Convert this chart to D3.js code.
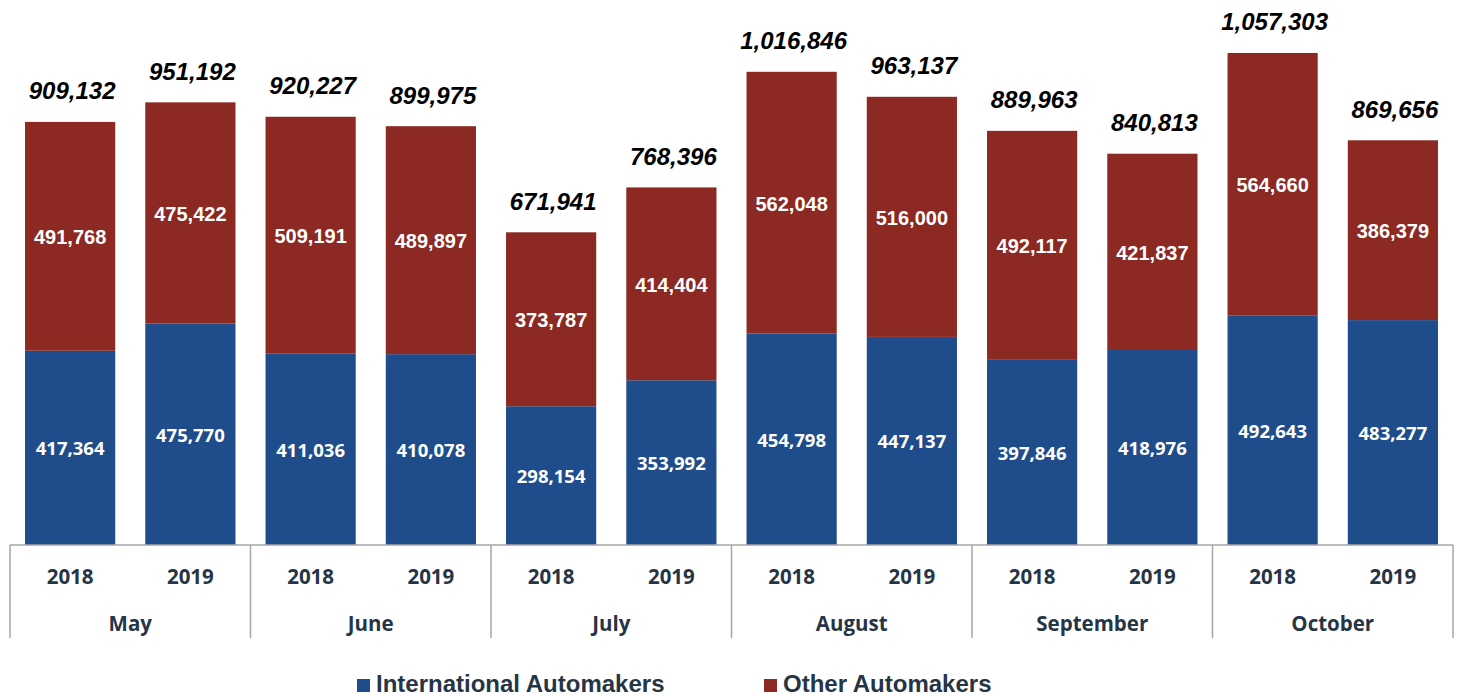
<!DOCTYPE html>
<meta charset="utf-8">
<script src="https://d3js.org/d3.v7.min.js"></script>
<style>
body { margin: 0; background: #fff; }
</style>
<div id="chart"></div>
<script>

// data
var months = ["May", "June", "July", "August", "September", "October"];
var years = ["2018", "2019"];
var international = [417364, 475770, 411036, 410078, 298154, 353992, 454798, 447137, 397846, 418976, 492643, 483277];
var other = [491768, 475422, 509191, 489897, 373787, 414404, 562048, 516000, 492117, 421837, 564660, 386379];
var seriesNames = ["International Automakers", "Other Automakers"];

var colors = {"International Automakers": "#1f4d8c", "Other Automakers": "#8b2922"};
// the blue labels are in a Calibri-like face, the red ones in Arial
var labelFont = {
  "International Automakers": {family: "'Open Sans', sans-serif", size: "18.5px"},
  "Other Automakers": {family: "'Liberation Sans', Arial, sans-serif", size: "20px"}
};

var width = 1459, height = 696;
var left = 10, right = 1453, base = 545;

var svg = d3.select("#chart").append("svg")
  .attr("width", width)
  .attr("height", height);

// one row per bar
var rows = [];
months.forEach(function(m, i) {
  years.forEach(function(y, j) {
    var k = i * 2 + j;
    rows.push({key: m + "|" + y, month: m, year: y,
      "International Automakers": international[k],
      "Other Automakers": other[k]});
  });
});

var x = d3.scaleBand()
  .domain(rows.map(function(d) { return d.key; }))
  .range([left, right])
  .paddingInner(0.25)
  .paddingOuter(0.125);

var xMonth = d3.scaleBand()
  .domain(months)
  .range([left, right]);

var y = d3.scaleLinear()
  .domain([0, 1100000])
  .range([base, 33.1]);

var stack = d3.stack().keys(seriesNames);
var layers = stack(rows);

var fmt = d3.format(",");

var g = svg.selectAll("g.layer")
  .data(layers)
  .enter().append("g")
    .attr("class", "layer")
    .attr("fill", function(d) { return colors[d.key]; });

g.selectAll("rect")
  .data(function(d) { return d; })
  .enter().append("rect")
    .attr("x", function(d) { return x(d.data.key); })
    .attr("width", x.bandwidth())
    .attr("y", function(d) { return y(d[1]); })
    .attr("height", function(d) { return y(d[0]) - y(d[1]); });

// segment labels
g.each(function(layer) {
  var f = labelFont[layer.key];
  d3.select(this).selectAll("text")
    .data(layer)
    .enter().append("text")
      .attr("x", function(d) { return x(d.data.key) + x.bandwidth() / 2; })
      .attr("y", function(d) { return (y(d[0]) + y(d[1])) / 2 + 1; })
      .attr("dy", "0.35em")
      .attr("text-anchor", "middle")
      .style("font-family", f.family)
      .style("font-weight", "bold")
      .style("font-size", f.size)
      .style("fill", "#fff")
      .text(function(d) { return fmt(d[1] - d[0]); });
});

// totals
svg.selectAll("text.total")
  .data(rows)
  .enter().append("text")
    .attr("class", "total")
    .attr("x", function(d) { return x(d.key) + x.bandwidth() / 2 + 2; })
    .attr("y", function(d) { return y(d["International Automakers"] + d["Other Automakers"]) - 31; })
    .attr("dy", "0.35em")
    .attr("text-anchor", "middle")
    .style("font-family", "'Liberation Sans', Arial, sans-serif")
    .style("font-weight", "bold")
    .style("font-style", "italic")
    .style("font-size", "24px")
    .style("fill", "#000")
    .text(function(d) { return fmt(d["International Automakers"] + d["Other Automakers"]); });

// category axis
var axis = svg.append("g");
axis.append("line")
  .attr("x1", left).attr("x2", right)
  .attr("y1", base).attr("y2", base)
  .attr("stroke", "#a6a6a6").attr("stroke-width", 1.5);

var seps = months.map(function(m) { return xMonth(m); }).concat([right]);
axis.selectAll("line.sep")
  .data(seps)
  .enter().append("line")
    .attr("class", "sep")
    .attr("x1", function(d) { return d; }).attr("x2", function(d) { return d; })
    .attr("y1", base).attr("y2", 638)
    .attr("stroke", "#a6a6a6").attr("stroke-width", 1.5);

axis.selectAll("text.year")
  .data(rows)
  .enter().append("text")
    .attr("class", "year")
    .attr("x", function(d) { return x(d.key) + x.bandwidth() / 2; })
    .attr("y", 577)
    .attr("dy", "0.35em")
    .attr("text-anchor", "middle")
    .style("font-family", "'Open Sans', sans-serif")
    .style("font-weight", "bold")
    .style("font-size", "20.5px")
    .style("fill", "#263546")
    .text(function(d) { return d.year; });

axis.selectAll("text.month")
  .data(months)
  .enter().append("text")
    .attr("class", "month")
    .attr("x", function(d) { return xMonth(d) + xMonth.bandwidth() / 2; })
    .attr("y", 624)
    .attr("dy", "0.35em")
    .attr("text-anchor", "middle")
    .style("font-family", "'Open Sans', sans-serif")
    .style("font-weight", "bold")
    .style("font-size", "20.5px")
    .style("fill", "#263546")
    .text(function(d) { return d; });

// legend
var legendX = [357, 764];
var legend = svg.selectAll("g.legend")
  .data(seriesNames)
  .enter().append("g")
    .attr("class", "legend")
    .attr("transform", function(d, i) { return "translate(" + legendX[i] + ",683)"; });

legend.append("rect")
  .attr("x", 0).attr("y", -4)
  .attr("width", 13).attr("height", 13)
  .attr("fill", function(d) { return colors[d]; });

legend.append("text")
  .attr("x", 19)
  .attr("y", 0)
  .attr("dy", "0.36em")
  .style("font-family", "'Liberation Sans', Arial, sans-serif")
  .style("font-weight", "bold")
  .style("font-size", "24px")
  .style("fill", "#263546")
  .text(function(d) { return d; });

</script>
